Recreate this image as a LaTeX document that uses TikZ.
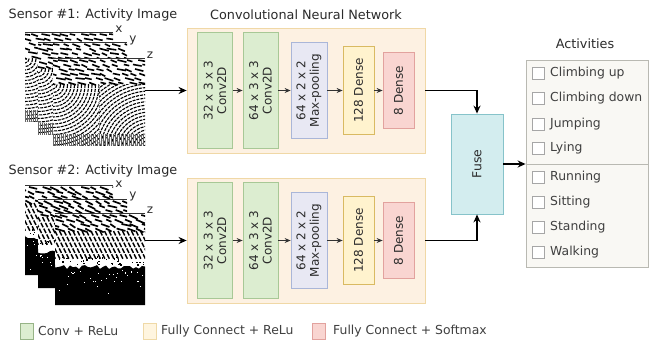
\documentclass[tikz,border=0pt]{standalone}
\usepackage{fontspec}
\setmainfont{DejaVu Sans}
\usetikzlibrary{arrows.meta,calc}
\definecolor{txt}{HTML}{2B2B2B}
\definecolor{convF}{HTML}{DCEDD0}
\definecolor{convD}{HTML}{A8C896}
\definecolor{poolF}{HTML}{E8E8F3}
\definecolor{poolD}{HTML}{AAB6D8}
\definecolor{d128F}{HTML}{FFF3CE}
\definecolor{d128D}{HTML}{D9BA62}
\definecolor{d8F}{HTML}{F9D5D1}
\definecolor{d8D}{HTML}{E2A29E}
\definecolor{cnnF}{HTML}{FDF1E2}
\definecolor{cnnD}{HTML}{F0D8A6}
\definecolor{fuseF}{HTML}{D3EDEF}
\definecolor{fuseD}{HTML}{86C3CA}
\definecolor{actF}{HTML}{F9F8F4}
\definecolor{actD}{HTML}{B9B9B2}
\definecolor{legY}{HTML}{FFF5DF}
\definecolor{legYD}{HTML}{EFD9A7}
\newcommand{\layerA}[4]{%
 \begin{scope}
  \clip (#1,#2) rectangle (#3,#4);
  \fill[white] (#1,#2) rectangle (#3,#4);
  \pgfmathsetmacro{\LW}{#3-#1}
  \pgfmathsetmacro{\LH}{#4-#2}
  \foreach \j in {0,...,5}{
    \foreach \i in {0,...,9}{
      \pgfmathsetmacro{\xx}{#1+\i*10+mod(\j*4,10)-6+rnd*4}
      \draw[line width=1.6pt] (\xx,#2+2+\j*4.5) -- ++(5+rnd*5,1+rnd*2);
    }
  }
  \begin{scope}
   \clip (#1,#2+27) rectangle ({#1+0.5*\LW},#4);
   \foreach \r in {4,7.5,...,110}{\draw[line width=1.1pt,dash pattern=on 3pt off 1pt] (#1,#2+27) circle[radius=\r];}
  \end{scope}
  \begin{scope}
   \clip ({#1+0.5*\LW},#2+27) rectangle (#3,#4);
   \foreach \r in {4,7.5,...,110}{\draw[line width=1.1pt,dash pattern=on 3pt off 1pt] (#3+5,#4+5) circle[radius=\r];}
  \end{scope}
  \foreach \i in {0,2,...,100}{\draw[line width=0.5pt,black!60] (#1+\i,#4-12) -- (#1+\i,#4);}
  \draw[line width=0.4pt,black!50,dash pattern=on 1pt off 1pt] ({#1+0.5*\LW},#2+27) -- ({#1+0.5*\LW},#4);
 \end{scope}}
\newcommand{\layerB}[4]{%
 \begin{scope}
  \clip (#1,#2) rectangle (#3,#4);
  \fill[white] (#1,#2) rectangle (#3,#4);
  \pgfmathsetmacro{\LW}{#3-#1}
  \pgfmathsetmacro{\LH}{#4-#2}
  \foreach \j in {0,...,3}{
    \foreach \i in {0,...,9}{
      \pgfmathsetmacro{\xx}{#1+\i*10+mod(\j*5,10)-6+rnd*4}
      \draw[line width=1.7pt] (\xx,#2+2+\j*4.5) -- ++(5+rnd*5,1.5+rnd*2.5);
    }
  }
  \foreach \i in {-12,...,22}{
    \draw[line width=1.4pt,dash pattern=on 5pt off 1.5pt] (#1+\i*4.5,#2+18) -- ++(14,28);
  }
  \fill (#1,#2+0.56*\LH) \foreach \i in {0,3,...,96}{ -- ({#1+\i},{#2+0.56*\LH+rnd*5})} -- (#3,#4) -- (#1,#4) -- cycle;
  \foreach \k in {1,...,40}{\fill ({#1+rnd*\LW},{#2+0.47*\LH+rnd*0.09*\LH}) rectangle ++(1.3,1.3);}
  \foreach \k in {1,...,35}{\fill[white] ({#1+rnd*\LW},{#2+0.62*\LH+rnd*rnd*0.35*\LH}) rectangle ++(1,1);}
 \end{scope}}
\tikzset{
  every node/.style={text=txt},
  blk/.style={rotate=90, align=center, line width=0.8pt, inner sep=0pt,
              font=\fontsize{12}{13.5}\selectfont},
  conv/.style={blk, draw=convD, fill=convF, minimum width=116pt, minimum height=35pt},
  pool/.style={blk, draw=poolD, fill=poolF, minimum width=96pt, minimum height=36pt},
  dense/.style={blk, draw=d128D, fill=d128F, minimum width=88pt, minimum height=31pt},
  soft/.style={blk, draw=d8D, fill=d8F, minimum width=76pt, minimum height=31pt},
  cnnbox/.style={draw=cnnD, fill=cnnF, line width=0.8pt, minimum width=238pt, minimum height=125pt},
  title/.style={font=\fontsize{12.8}{14}\selectfont, inner sep=0pt},
  lbl/.style={font=\fontsize{12}{14}\selectfont, inner sep=0pt},
  arr/.style={-{Stealth[length=8pt,width=7pt]}, line width=1.3pt, black},
  sarr/.style={-{Stealth[length=6pt,width=5pt]}, line width=0.8pt, black!80},
  chk/.style={draw=black!35, fill=white, line width=0.6pt, minimum size=12pt, inner sep=0pt},
  item/.style={font=\fontsize{12.4}{14}\selectfont, anchor=west, inner sep=0pt, text=black!75},
  axis/.style={line width=0.6pt, black!80},
  legsq/.style={line width=0.8pt, minimum width=13pt, minimum height=16pt, inner sep=0pt},
}
\begin{document}
\begin{tikzpicture}[x=1pt,y=-1pt]
\useasboundingbox[fill=white] (0,0) rectangle (652,347);
\pgfmathsetseed{11}
% titles
\node[title] (t1) at (93,15) {Sensor \#1: Activity Image};
\node[title] (t2) at (93,171) {Sensor \#2: Activity Image};
\node[title] (t3) at (306,15) {Convolutional Neural Network};
\node[title] (t4) at (585,44) {Activities};
% activity image 1
\layerA{25}{32}{113}{122}
\layerA{38}{42}{127}{135}
\layerA{53}{58}{145}{146}
\draw[axis] (25,32) -- (113,32);
\draw[axis] (38,42) -- (127,42);
\draw[axis] (53,58) -- (145,58);
\node[lbl] (ax1) at (119,29) {x};
\node[lbl] (ay1) at (133,40) {y};
\node[lbl] (az1) at (150,55) {z};
% activity image 2
\layerB{25}{185}{113}{275}
\layerB{38}{199}{127}{288}
\layerB{55}{213}{145}{305}
\draw[axis] (25,185) -- (113,185);
\draw[axis] (38,199) -- (127,199);
\draw[axis] (55,213) -- (145,213);
\node[lbl] (ax2) at (119,184) {x};
\node[lbl] (ay2) at (133,196) {y};
\node[lbl] (az2) at (150,210) {z};
\coordinate (in0) at (145,90.5);
\coordinate (in1) at (145,240.5);
% CNN rows
\foreach \r in {0,1}{
  \pgfmathsetmacro{\yy}{90.5+150*\r}
  \node[cnnbox] (cnn-\r) at (306,\yy) {};
  \node[conv] (c1-\r) at (215,\yy) {32 x 3 x 3\\Conv2D};
  \node[conv] (c2-\r) at (260.5,\yy) {64 x 3 x 3\\Conv2D};
  \node[pool] (mp-\r) at (309,\yy) {64 x 2 x 2\\Max-pooling};
  \node[dense] (d1-\r) at (358.5,\yy) {128 Dense};
  \node[soft] (d2-\r) at (398.5,\yy) {8 Dense};
  \draw[sarr] (c1-\r.south) -- (c2-\r.north);
  \draw[sarr] (c2-\r.south) -- (mp-\r.north);
  \draw[sarr] (mp-\r.south) -- (d1-\r.north);
  \draw[sarr] (d1-\r.south) -- (d2-\r.north);
  \draw[arr] (in\r) -- (cnn-\r.west);
}
% fuse (rotated: east = top, west = bottom, south = right)
\node[rotate=90, draw=fuseD, fill=fuseF, line width=0.8pt, minimum width=100pt, minimum height=52pt,
      font=\fontsize{12.4}{14}\selectfont] (fuse) at (477,164) {Fuse};
\draw[arr] (cnn-0.east) -| (fuse.east);
\draw[arr] (cnn-1.east) -| (fuse.west);
% activities
\node[draw=actD, fill=actF, line width=0.8pt, minimum width=122pt, minimum height=104pt, inner sep=0pt] (act1) at (587,112) {};
\node[draw=actD, fill=actF, line width=0.8pt, minimum width=122pt, minimum height=103pt, inner sep=0pt] (act2) at (587,215.5) {};
\draw[arr] (fuse.south) -- (fuse.south -| act2.west);
\foreach \t/\y [count=\k] in {Climbing up/73, Climbing down/98, Jumping/124, Lying/148, Running/177, Sitting/202, Standing/227, Walking/252}{
  \node[chk] (cb\k) at (538.5,\y) {};
  \node[item] (it\k) at (550,\y) {\t};
}
% legend
\node[legsq, draw=convD!90!black, fill=convF] (lg1) at (26.5,331) {};
\node[item] (lt1) at (38,331) {Conv + ReLu};
\node[legsq, draw=legYD, fill=legY] (lg2) at (149.5,331) {};
\node[item] (lt2) at (161,331) {Fully Connect + ReLu};
\node[legsq, draw=d8D, fill=d8F] (lg3) at (318.5,331) {};
\node[item] (lt3) at (333,331) {Fully Connect + Softmax};
\end{tikzpicture}
\end{document}
